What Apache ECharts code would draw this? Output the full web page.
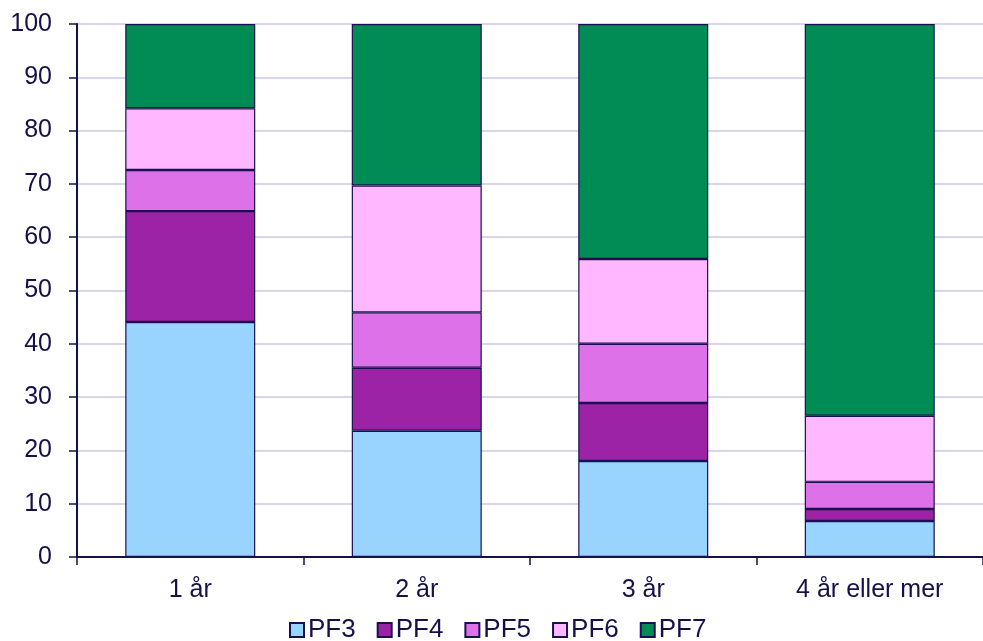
<!DOCTYPE html>
<html><head><meta charset="utf-8">
<script src="https://cdn.jsdelivr.net/npm/echarts@6/dist/echarts.min.js"></script>
<style>html,body{margin:0;padding:0;background:#fff}#c{width:983px;height:641px}</style>
</head><body><div id="c"></div>
<script>
const categories = ['1 år', '2 år', '3 år', '4 år eller mer'];
const seriesNames = ['PF3', 'PF4', 'PF5', 'PF6', 'PF7'];
const PF3 = [44.1, 23.7, 18.0, 6.75];
const PF4 = [20.8, 11.8, 10.9, 2.25];
const PF5 = [7.7, 10.4, 11.1, 5.1];
const PF6 = [11.6, 23.8, 15.9, 12.4];
const PF7 = [15.8, 30.3, 44.1, 73.5];
const yTicks = [0, 10, 20, 30, 40, 50, 60, 70, 80, 90, 100];

const colors = ['#99D4FF', '#9C23A6', '#DD72E8', '#FFB8FF', '#008C54'];
const values = [PF3, PF4, PF5, PF6, PF7];
const ink = '#14104a';
const font = 'Liberation Sans, Arial, sans-serif';

const chart = echarts.init(document.getElementById('c'), null, {renderer: 'canvas'});
chart.setOption({
  animation: false,
  grid: {left: 77, top: 24, width: 908, height: 533, containLabel: false},
  legend: {
    data: seriesNames, left: 289, top: 617, padding: 0, icon: 'rect',
    itemWidth: 14, itemHeight: 14, itemGap: 21,
    textStyle: {fontFamily: font, fontSize: 26, lineHeight: 26, color: ink, padding: [0,0,0,-1]}
  },
  xAxis: {
    type: 'category', data: categories,
    axisLine: {lineStyle: {color: ink, width: 2}},
    axisTick: {show: true, length: 8, lineStyle: {color: ink, width: 1.5}, alignWithLabel: false},
    axisLabel: {fontFamily: font, fontSize: 25, color: ink, margin: 21}
  },
  yAxis: {
    type: 'value', min: yTicks[0], max: yTicks[yTicks.length-1], interval: 10,
    axisLine: {show: true, lineStyle: {color: ink, width: 2}},
    axisTick: {show: true, length: 8, lineStyle: {color: ink, width: 1.5}},
    axisLabel: {fontFamily: font, fontSize: 25, color: ink, margin: 25},
    splitLine: {lineStyle: {color: '#d6d6f0', width: 2}}
  },
  series: seriesNames.map((n, i) => ({
    name: n, type: 'bar', stack: 'total', data: values[i], barWidth: 130,
    itemStyle: {color: colors[i], borderColor: '#1a1050', borderWidth: 1.2}
  }))
});
</script></body></html>
